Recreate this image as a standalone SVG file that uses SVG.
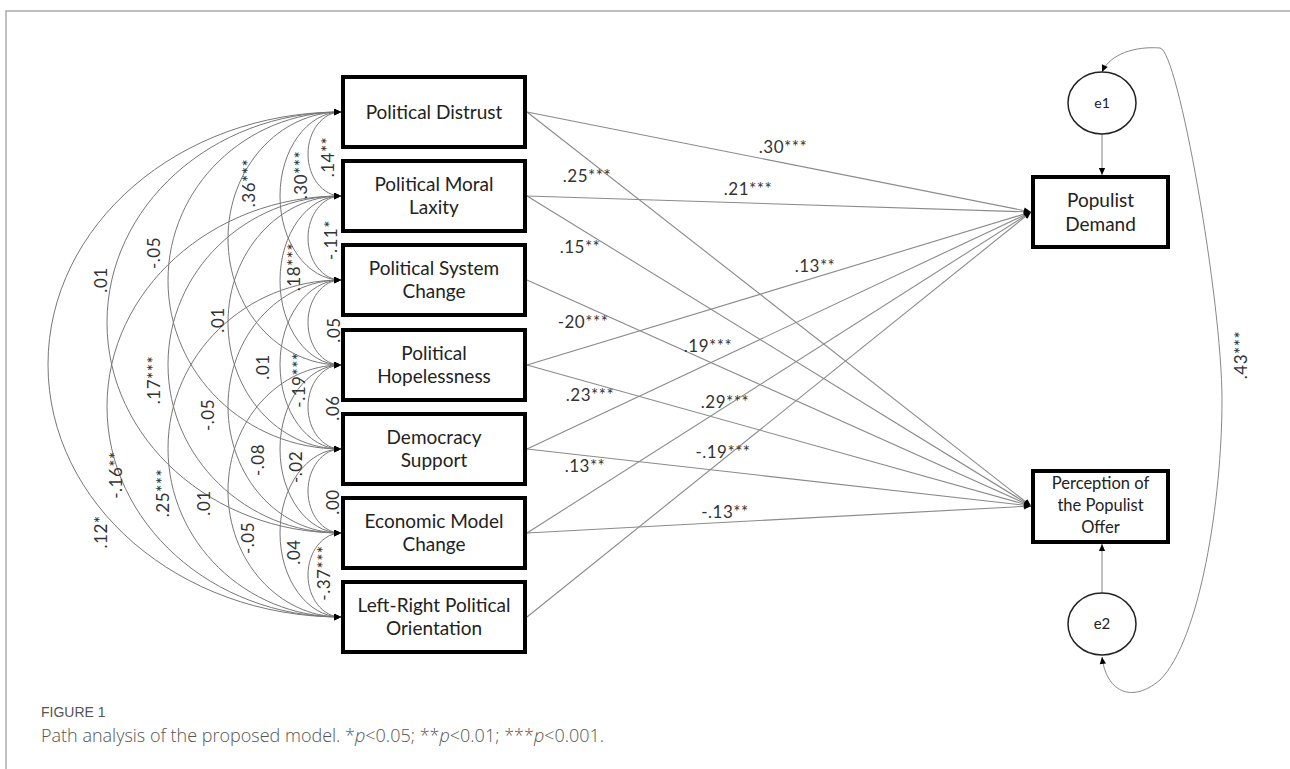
<svg xmlns="http://www.w3.org/2000/svg" width="1290" height="769" viewBox="0 0 1290 769">
<style>
.box{fill:#fff;stroke:#000;stroke-width:4}
.ell{fill:#fff;stroke:#222;stroke-width:1.5}
.nt{font-family:Lato,"Liberation Sans",sans-serif;font-size:19px;fill:#222;text-anchor:middle}
.nts{font-family:Lato,"Liberation Sans",sans-serif;font-size:16.5px;fill:#222;text-anchor:middle}
.arc{fill:none;stroke:#777;stroke-width:1;marker-start:url(#ah);marker-end:url(#ah)}
.pl{fill:none;stroke:#8a8a8a;stroke-width:1.1;marker-end:url(#ah)}
.lb{font-family:Lato,"Liberation Sans",sans-serif;font-size:17px;fill:#333;letter-spacing:0.5px}
.rl{text-anchor:middle;dominant-baseline:central}
.frame{stroke:#aaa;stroke-width:1.5;fill:none}
</style>
<defs>
<marker id="ah" viewBox="0 0 10 10" refX="10" refY="5" markerWidth="8" markerHeight="7" markerUnits="userSpaceOnUse" orient="auto-start-reverse"><path d="M0,0.5 L10,5 L0,9.5 z" fill="#000"/></marker>
</defs>
<rect width="1290" height="769" fill="#fff"/>
<path class="frame" d="M1290,11 H6 V769"/>

<g id="connectors">
<path class="arc" d="M341,112 C322.8,112 308,130.8 308,154 C308,177.2 322.8,196 341,196"/>
<path class="arc" d="M341,196 C322.8,196 308,214.8 308,238 C308,261.2 322.8,280 341,280"/>
<path class="arc" d="M341,280 C322.8,280 308,299 308,322.5 C308,346 322.8,365 341,365"/>
<path class="arc" d="M341,365 C322.8,365 308,383.8 308,407 C308,430.2 322.8,449 341,449"/>
<path class="arc" d="M341,449 C322.8,449 308,467.8 308,491 C308,514.2 322.8,533 341,533"/>
<path class="arc" d="M341,533 C322.8,533 308,551.8 308,575 C308,598.2 322.8,617 341,617"/>
<path class="arc" d="M341,112 C307.3,112 280,149.6 280,196 C280,242.4 307.3,280 341,280"/>
<path class="arc" d="M341,196 C307.3,196 280,233.8 280,280.5 C280,327.2 307.3,365 341,365"/>
<path class="arc" d="M341,280 C307.3,280 280,317.8 280,364.5 C280,411.2 307.3,449 341,449"/>
<path class="arc" d="M341,365 C307.3,365 280,402.6 280,449 C280,495.4 307.3,533 341,533"/>
<path class="arc" d="M341,449 C307.3,449 280,486.6 280,533 C280,579.4 307.3,617 341,617"/>
<path class="arc" d="M341,112 C278.6,112 228,168.6 228,238.5 C228,308.4 278.6,365 341,365"/>
<path class="arc" d="M341,196 C278.6,196 228,252.6 228,322.5 C228,392.4 278.6,449 341,449"/>
<path class="arc" d="M341,280 C278.6,280 228,336.6 228,406.5 C228,476.4 278.6,533 341,533"/>
<path class="arc" d="M341,365 C278.6,365 228,421.4 228,491 C228,560.6 278.6,617 341,617"/>
<path class="arc" d="M341,112 C245.5,112 168,187.4 168,280.5 C168,373.6 245.5,449 341,449"/>
<path class="arc" d="M341,196 C245.5,196 168,271.4 168,364.5 C168,457.6 245.5,533 341,533"/>
<path class="arc" d="M341,280 C245.5,280 168,355.4 168,448.5 C168,541.6 245.5,617 341,617"/>
<path class="arc" d="M341,112 C211.8,112 107,206.2 107,322.5 C107,438.8 211.8,533 341,533"/>
<path class="arc" d="M341,196 C211.8,196 107,290.2 107,406.5 C107,522.8 211.8,617 341,617"/>
<path class="arc" d="M341,112 C179.2,112 48,225 48,364.5 C48,504 179.2,617 341,617"/>
<path class="pl" d="M527,112 L1031,212"/>
<path class="pl" d="M527,196 L1031,212"/>
<path class="pl" d="M527,365 L1031,212"/>
<path class="pl" d="M527,449 L1031,212"/>
<path class="pl" d="M527,533 L1031,212"/>
<path class="pl" d="M527,617 L1031,212"/>
<path class="pl" d="M527,112 L1031,506"/>
<path class="pl" d="M527,196 L1031,506"/>
<path class="pl" d="M527,280 L1031,506"/>
<path class="pl" d="M527,365 L1031,506"/>
<path class="pl" d="M527,449 L1031,506"/>
<path class="pl" d="M527,533 L1031,506"/>
<path class="pl" d="M1102,134 L1102,175"/>
<path class="pl" d="M1102,593 L1102,544"/>
<path class="arc" style="stroke:#888" d="M1102,72 C1110,54 1135,46 1160,48 C1178,50 1222,300 1222,400 C1222,500 1200,640 1160,680 C1130,705 1106,690 1102,657"/>
</g>

<g id="labels">
<g class="lb">
<text x="783" y="153" text-anchor="middle">.30***</text>
<text x="748" y="195" text-anchor="middle">.21***</text>
<text x="587" y="182" text-anchor="middle">.25***</text>
<text x="580" y="253" text-anchor="middle">.15**</text>
<text x="815" y="272" text-anchor="middle">.13**</text>
<text x="583" y="328" text-anchor="middle">-20***</text>
<text x="708" y="352" text-anchor="middle">.19***</text>
<text x="590" y="401" text-anchor="middle">.23***</text>
<text x="725" y="408" text-anchor="middle">.29***</text>
<text x="723" y="458" text-anchor="middle">-.19***</text>
<text x="585" y="472" text-anchor="middle">.13**</text>
<text x="725" y="518" text-anchor="middle">-.13**</text>
</g>
<g class="lb">
<text class="rl" x="327" y="157" transform="rotate(-90 327 157)">.14**</text>
<text class="rl" x="300" y="175" transform="rotate(-90 300 175)">.30***</text>
<text class="rl" x="248" y="183" transform="rotate(-90 248 183)">.36***</text>
<text class="rl" x="153" y="253" transform="rotate(-90 153 253)">-.05</text>
<text class="rl" x="100" y="280" transform="rotate(-90 100 280)">.01</text>
<text class="rl" x="330" y="240" transform="rotate(-90 330 240)">-.11*</text>
<text class="rl" x="293" y="267" transform="rotate(-90 293 267)">.18***</text>
<text class="rl" x="217" y="320" transform="rotate(-90 217 320)">.01</text>
<text class="rl" x="333" y="330" transform="rotate(-90 333 330)">.05</text>
<text class="rl" x="262" y="367" transform="rotate(-90 262 367)">.01</text>
<text class="rl" x="298" y="380" transform="rotate(-90 298 380)">-.19***</text>
<text class="rl" x="153" y="380" transform="rotate(-90 153 380)">.17***</text>
<text class="rl" x="332" y="408" transform="rotate(-90 332 408)">.06</text>
<text class="rl" x="207" y="415" transform="rotate(-90 207 415)">-.05</text>
<text class="rl" x="257" y="460" transform="rotate(-90 257 460)">-.08</text>
<text class="rl" x="295" y="467" transform="rotate(-90 295 467)">-.02</text>
<text class="rl" x="332" y="502" transform="rotate(-90 332 502)">.00</text>
<text class="rl" x="115" y="475" transform="rotate(-90 115 475)">-.16**</text>
<text class="rl" x="162" y="493" transform="rotate(-90 162 493)">.25***</text>
<text class="rl" x="203" y="503" transform="rotate(-90 203 503)">.01</text>
<text class="rl" x="100" y="532" transform="rotate(-90 100 532)">.12*</text>
<text class="rl" x="247" y="538" transform="rotate(-90 247 538)">-.05</text>
<text class="rl" x="293" y="552" transform="rotate(-90 293 552)">.04</text>
<text class="rl" x="323" y="573" transform="rotate(-90 323 573)">-.37***</text>
<text class="rl" x="1240" y="355" transform="rotate(-90 1240 355)">.43***</text>
</g>
</g>

<g id="n-distrust"><rect class="box" x="343" y="77" width="182" height="70"/><text class="nt" x="434" y="119">Political Distrust</text></g>
<g id="n-moral"><rect class="box" x="343" y="161" width="182" height="70"/><text class="nt" x="434" y="191">Political Moral</text><text class="nt" x="434" y="214">Laxity</text></g>
<g id="n-system"><rect class="box" x="343" y="245" width="182" height="70"/><text class="nt" x="434" y="275">Political System</text><text class="nt" x="434" y="298">Change</text></g>
<g id="n-hopeless"><rect class="box" x="343" y="330" width="182" height="70"/><text class="nt" x="434" y="360">Political</text><text class="nt" x="434" y="383">Hopelessness</text></g>
<g id="n-democracy"><rect class="box" x="343" y="414" width="182" height="70"/><text class="nt" x="434" y="444">Democracy</text><text class="nt" x="434" y="467">Support</text></g>
<g id="n-economic"><rect class="box" x="343" y="498" width="182" height="70"/><text class="nt" x="434" y="528">Economic Model</text><text class="nt" x="434" y="551">Change</text></g>
<g id="n-leftright"><rect class="box" x="343" y="582" width="182" height="70"/><text class="nt" x="434" y="612">Left-Right Political</text><text class="nt" x="434" y="635">Orientation</text></g>
<g id="n-demand"><rect class="box" x="1033" y="177" width="135" height="70"/><text class="nt" x="1100.5" y="207">Populist</text><text class="nt" x="1100.5" y="231">Demand</text></g>
<g id="n-offer"><rect class="box" x="1033" y="471" width="135" height="71"/><text class="nts" x="1100.5" y="489">Perception of</text><text class="nts" x="1100.5" y="511">the Populist</text><text class="nts" x="1100.5" y="533">Offer</text></g>
<g id="n-e1"><ellipse class="ell" cx="1102" cy="103" rx="34" ry="31"/><text class="nts" x="1102" y="108" style="font-size:14px">e1</text></g>
<g id="n-e2"><ellipse class="ell" cx="1102" cy="624" rx="34" ry="31"/><text class="nts" x="1102" y="629" style="font-size:15px">e2</text></g>

<g id="caption">
<text x="41" y="717" style="font-family:'Liberation Sans',sans-serif;font-size:14px;fill:#555">FIGURE 1</text>
<text x="41" y="742" style="font-family:'Open Sans','Liberation Sans',sans-serif;font-size:18px;fill:#555;font-weight:300">Path analysis of the proposed model. *<tspan font-style="italic">p</tspan>&lt;0.05; **<tspan font-style="italic">p</tspan>&lt;0.01; ***<tspan font-style="italic">p</tspan>&lt;0.001.</text>
</g>
</svg>
